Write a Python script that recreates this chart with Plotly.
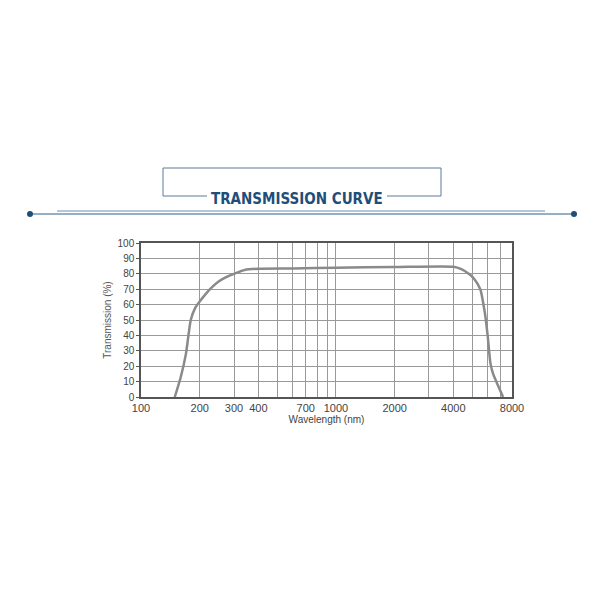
import plotly.graph_objects as go

wavelength = [149, 160, 170, 180, 190, 200, 215, 230, 250, 275, 300, 340, 400, 600, 1000, 2000, 4000, 4400, 4800, 5100, 5500, 5800, 6000, 6200, 6400, 6700, 7200]
transmission = [0, 13, 28, 50, 58, 62, 67, 71, 75, 78, 80, 82.5, 83.3, 83.5, 84, 84.4, 84.6, 83, 80, 77, 70, 55, 40, 22, 15, 9, 0]
x_ticks = [100, 200, 300, 400, 700, 1000, 2000, 4000, 8000]
minor_grid = [500, 600, 800, 900, 3000, 5000, 6000, 7000]

OFF = 8  # page body offset
L, R, T, B = 141 - OFF, 512 - OFF, 243 - OFF, 397 - OFF
def px(x): return (x - OFF - L) / (R - L)
def py(y): return (B - (y - OFF)) / (B - T)

fig = go.Figure(go.Scatter(x=wavelength, y=transmission, mode="lines",
                           line=dict(color="#8a8a8a", width=2.5, shape="spline", smoothing=0.6)))
grid = "#9a9a9a"
fig.update_xaxes(type="log", range=[2, 3.90309], tickvals=x_ticks, ticktext=[str(v) for v in x_ticks],
                 showgrid=True, gridcolor=grid, gridwidth=1, showline=True, linecolor="#555", linewidth=1.5,
                 mirror=True, ticks="", tickfont=dict(family="Arial", size=11, color="#444"),
                 title=dict(text="Wavelength (nm)", font=dict(family="Arial", size=10, color="#444"), standoff=2),
                 minor=dict(tickvals=minor_grid, showgrid=True, gridcolor=grid))
fig.update_yaxes(range=[0, 100], dtick=10, showgrid=True, gridcolor=grid, gridwidth=1, showline=True,
                 linecolor="#555", linewidth=1.5, mirror=True, ticks="outside", ticklen=3, tickcolor="#555",
                 tickfont=dict(family="Arial", size=10, color="#444"),
                 title=dict(text="Transmission (%)", font=dict(family="Liberation Sans Narrow, Arial", size=10, color="#555"), standoff=4))

shapes = [
    dict(type="rect", xref="paper", yref="paper", x0=px(163), x1=px(441), y0=py(196), y1=py(168),
         line=dict(color="#5a7a9a", width=1)),
    dict(type="line", xref="paper", yref="paper", x0=px(30), x1=px(574), y0=py(214), y1=py(214),
         line=dict(color="#2a5f8a", width=1)),
    dict(type="line", xref="paper", yref="paper", x0=px(57), x1=px(545), y0=py(211), y1=py(211),
         line=dict(color="#6a8eb0", width=1)),
    dict(type="circle", xref="paper", yref="paper", x0=px(27), x1=px(33), y0=py(217), y1=py(211),
         fillcolor="#1f4e79", line=dict(width=0)),
    dict(type="circle", xref="paper", yref="paper", x0=px(571), x1=px(577), y0=py(217), y1=py(211),
         fillcolor="#1f4e79", line=dict(width=0)),
    dict(type="rect", xref="paper", yref="paper", x0=px(207), x1=px(387), y0=py(205), y1=py(190),
         fillcolor="white", line=dict(width=0)),
]
fig.update_layout(
    width=600, height=600, margin=dict(l=L, r=600 - R, t=T, b=600 - B),
    paper_bgcolor="white", plot_bgcolor="white", showlegend=False, shapes=shapes,
    annotations=[dict(text="<b>TRANSMISSION CURVE</b>", xref="paper", yref="paper", x=px(297), y=py(188),
                      showarrow=False, font=dict(family="DejaVu Sans Condensed, Liberation Sans Narrow", size=15, color="#1f4e79"))],
)
fig.write_html("out.html")
